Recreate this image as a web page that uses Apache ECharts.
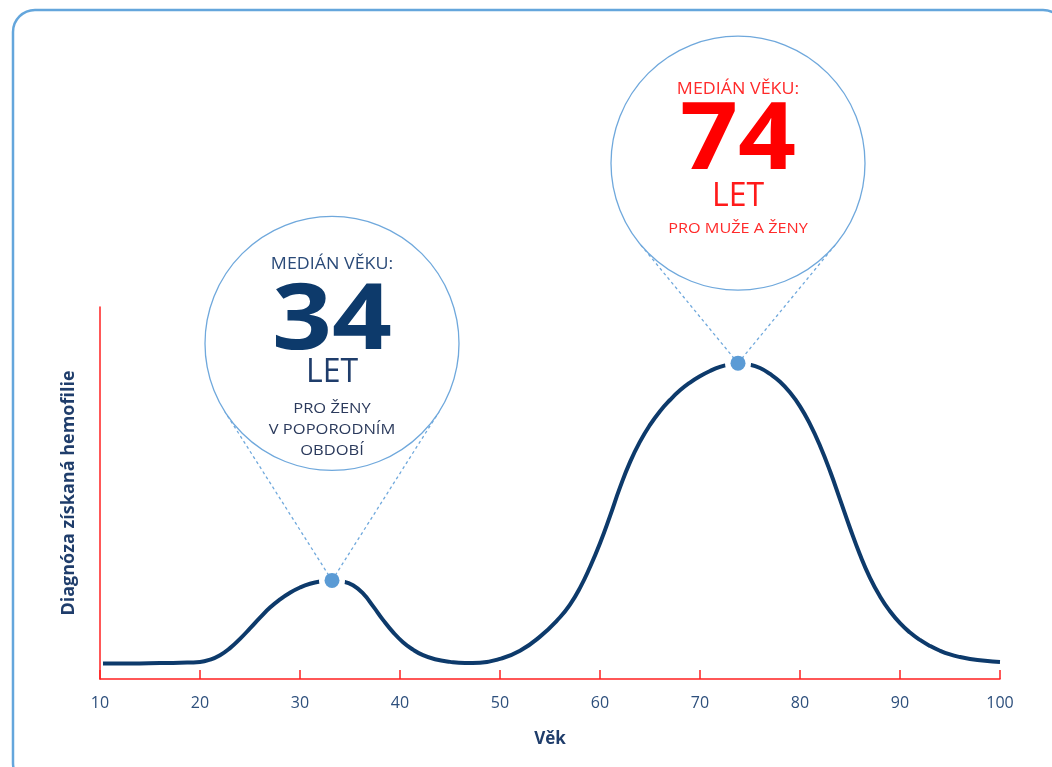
<!DOCTYPE html>
<html>
<head>
<meta charset="utf-8">
<script src="https://cdn.jsdelivr.net/npm/echarts@6/dist/echarts.min.js"></script>
<style>
  html, body { margin: 0; padding: 0; background: #fff; }
  #chart { width: 1052px; height: 767px; }
</style>
</head>
<body>
<div id="chart"></div>
<script>
// Věk (osa x) a relativní četnost diagnózy (osa y, bez stupnice)
const ages = [10.3, 13, 16, 18, 20, 21, 22, 23, 24, 25, 26, 27, 28, 29, 30, 31, 32, 33.2, 34.3, 35.3, 36.3, 37.3, 38.3, 39.3,
              40.3, 41.3, 42.3, 43.5, 45, 46.5, 48, 50, 52, 54, 56, 57, 58, 59, 60, 61, 62, 63, 64, 65, 66, 67, 68, 69, 70,
              71, 72, 73, 73.8, 75, 76, 77, 78, 79, 80, 81, 82, 83, 84, 85, 86, 87, 88, 89, 90, 91, 92, 93, 94, 95, 96, 97,
              98.5, 100];
const values = [4.2, 4.2, 4.3, 4.4, 4.6, 5.2, 6.4, 8.3, 10.8, 13.6, 16.5, 19.2, 21.4, 23.2, 24.6, 25.6, 26.2, 26.5, 26.2, 25.2,
                23.0, 19.6, 15.9, 12.6, 9.9, 7.9, 6.4, 5.3, 4.6, 4.3, 4.4, 5.4, 7.6, 11.4, 16.6, 20.0, 24.5, 30.1, 36.5, 43.8,
                51.5, 58.3, 63.8, 68.3, 72.0, 75.0, 77.6, 79.7, 81.4, 82.8, 83.9, 84.6, 84.9, 84.5, 83.6, 82.0, 79.9, 77.0,
                73.3, 68.5, 62.7, 55.9, 48.3, 40.6, 33.4, 27.2, 22.2, 18.2, 15.0, 12.5, 10.5, 8.9, 7.6, 6.6, 5.9, 5.4, 4.9, 4.6];
const xTicks = [10, 20, 30, 40, 50, 60, 70, 80, 90, 100];

// mediány (vrcholy křivky)
const peakAges = [33.2, 73.8];
const peakValues = [26.5, 84.9];
const medianLabels = ['34', '74'];

const chart = echarts.init(document.getElementById('chart'));

const red = '#ff2020';
const navy = '#0d3a6b';
const lightBlue = '#5b9bd5';

const option = {
    animation: false,
    backgroundColor: '#fff',
    grid: { left: 100, right: 52, top: 307, bottom: 88 },
    xAxis: {
        type: 'value',
        min: 10,
        max: 100,
        interval: 10,
        name: 'Věk',
        nameLocation: 'middle',
        nameGap: 52,
        nameTextStyle: { fontFamily: 'Open Sans', fontWeight: 'bold', fontSize: 17, color: '#1f3d6b' },
        axisLine: { lineStyle: { color: red, width: 1.5 } },
        axisTick: { inside: true, length: 9, lineStyle: { color: red, width: 1.5 } },
        axisLabel: {
            margin: 16, fontFamily: 'Open Sans', fontSize: 16, color: '#2d4f7c',
            formatter: v => xTicks.includes(v) ? String(v) : ''
        },
        splitLine: { show: false }
    },
    yAxis: {
        type: 'value',
        min: 0,
        max: 100,
        name: 'Diagnóza získaná hemofilie',
        nameLocation: 'middle',
        nameGap: 22,
        nameTextStyle: { fontFamily: 'Open Sans', fontWeight: 'bold', fontSize: 18, color: '#1f3d6b' },
        axisLine: { show: true, lineStyle: { color: red, width: 1.5 } },
        axisTick: { show: false },
        axisLabel: { show: false },
        splitLine: { show: false }
    },
    series: [
        {
            type: 'line',
            data: ages.map((a, i) => [a, values[i]]),
            smooth: 0.5,
            symbol: 'none',
            lineStyle: { color: navy, width: 4 },
            z: 2
        },
        {
            // bílá mezera okolo bodu
            type: 'scatter',
            data: peakAges.map((a, i) => [a, peakValues[i]]),
            symbolSize: 26,
            itemStyle: { color: '#fff', opacity: 1 },
            silent: true,
            z: 3
        },
        {
            type: 'scatter',
            data: peakAges.map((a, i) => [a, peakValues[i]]),
            symbolSize: 15,
            itemStyle: { color: lightBlue, opacity: 1 },
            z: 5
        }
    ]
};

chart.setOption(option);

// bubliny s popisky nad vrcholy
const bubbleLift = [237, 200];
const bubbleR = 127;
const bubbleTexts = [
    [
        { t: 'MEDIÁN VĚKU:', dy: -79, size: 15.5, weight: 'normal', color: '#2a4a78', sx: 1.15 },
        { t: medianLabels[0], dy: -21, size: 92, weight: 'bold', color: navy, sx: 1.14 },
        { t: 'LET', dy: 29, size: 32, weight: 'normal', color: '#1f3d6b', sx: 1.0 },
        { t: 'PRO ŽENY', dy: 65, size: 15, weight: 'normal', color: '#2b3a5c', sx: 1.1 },
        { t: 'V POPORODNÍM', dy: 86, size: 15, weight: 'normal', color: '#2b3a5c', sx: 1.1 },
        { t: 'OBDOBÍ', dy: 107, size: 15, weight: 'normal', color: '#2b3a5c', sx: 1.1 }
    ],
    [
        { t: 'MEDIÁN VĚKU:', dy: -74, size: 15.5, weight: 'normal', color: '#ff2a2a', sx: 1.15 },
        { t: medianLabels[1], dy: -21, size: 94, weight: 'bold', color: '#ff0000', sx: 1.08 },
        { t: 'LET', dy: 34, size: 32, weight: 'normal', color: '#ff1a1a', sx: 1.0 },
        { t: 'PRO MUŽE A ŽENY', dy: 66, size: 14.5, weight: 'normal', color: '#ff2a2a', sx: 1.12 }
    ]
];

const graphics = [
    {
        type: 'rect',
        shape: { x: 13, y: 10, width: 1052, height: 775, r: 22 },
        style: { fill: 'none', stroke: '#64a6dc', lineWidth: 2.5 },
        silent: true,
        z: -10
    }
];

peakAges.forEach((a, i) => {
    const p = chart.convertToPixel({ seriesIndex: 0 }, [a, peakValues[i]]);
    const cx = p[0];
    const cy = p[1] - bubbleLift[i];
    const d = bubbleLift[i];
    const theta = Math.acos(bubbleR / d);
    [-1, 1].forEach(s => {
        const tx = cx + s * bubbleR * Math.sin(theta);
        const ty = cy + bubbleR * Math.cos(theta);
        graphics.push({
            type: 'line',
            shape: { x1: p[0], y1: p[1], x2: tx, y2: ty },
            style: { stroke: '#6fa8dc', lineWidth: 1.3, lineDash: [3, 3] },
            silent: true,
            z: 4
        });
    });
    graphics.push({
        type: 'circle',
        shape: { cx: cx, cy: cy, r: bubbleR },
        style: { fill: '#fff', stroke: '#6fa8dc', lineWidth: 1.3 },
        silent: true,
        z: 4
    });
    bubbleTexts[i].forEach(item => {
        graphics.push({
            type: 'text',
            x: cx,
            y: cy + item.dy,
            scaleX: item.sx,
            style: {
                text: item.t,
                fontFamily: 'Open Sans',
                fontSize: item.size,
                fontWeight: item.weight,
                fill: item.color,
                align: 'center',
                verticalAlign: 'middle'
            },
            silent: true,
            z: 6
        });
    });
});

chart.setOption({ graphic: graphics });

window.addEventListener('resize', function() {
    chart.resize();
});
</script>
</body>
</html>
